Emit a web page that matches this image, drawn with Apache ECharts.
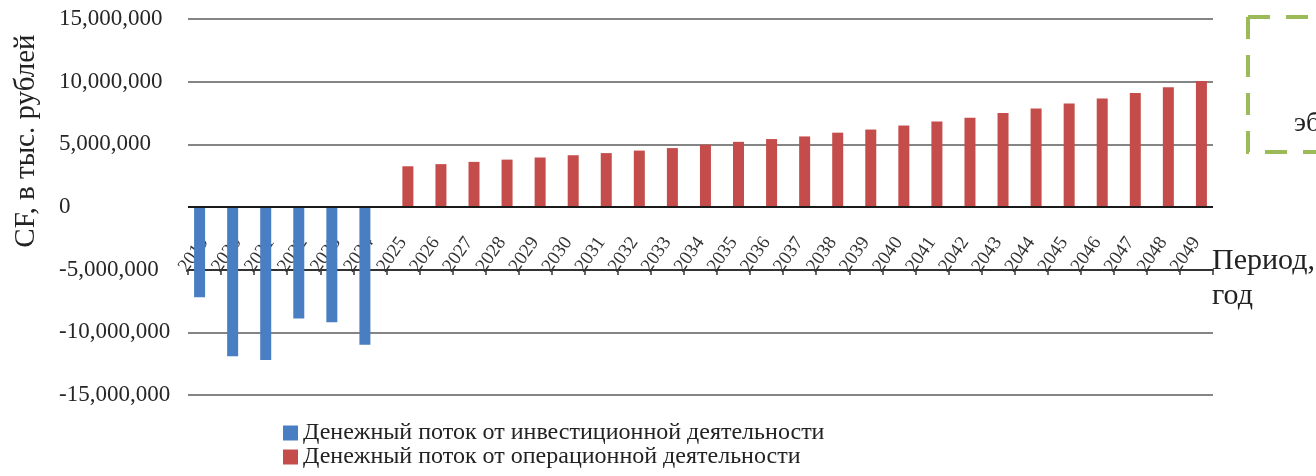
<!DOCTYPE html>
<html><head><meta charset="utf-8">
<script src="https://cdn.jsdelivr.net/npm/echarts@6/dist/echarts.min.js"></script>
<style>html,body{margin:0;padding:0;background:#fff}#c{width:1316px;height:476px}</style>
</head><body><div id="c"></div>
<script>
const years = ['2019','2020','2021','2022','2023','2024','2025','2026','2027','2028','2029','2030','2031','2032','2033','2034','2035','2036','2037','2038','2039','2040','2041','2042','2043','2044','2045','2046','2047','2048','2049'];
const investFlow = [-7200000,-11900000,-12200000,-8900000,-9200000,-11000000,null,null,null,null,null,null,null,null,null,null,null,null,null,null,null,null,null,null,null,null,null,null,null,null,null];
const operFlow = [null,null,null,null,null,null,3250000,3420000,3600000,3780000,3950000,4130000,4300000,4500000,4700000,4970000,5200000,5420000,5630000,5930000,6180000,6500000,6830000,7130000,7500000,7850000,8250000,8650000,9100000,9550000,10050000];
const seriesNames = ['Денежный поток от инвестиционной деятельности','Денежный поток от операционной деятельности'];
const yTitle = 'CF, в тыс. рублей';
const xTitle = 'Период,\nгод';
const boxText = 'эб';
const FONT = 'Liberation Serif';

const legendBase = {orient:'vertical', left:283, padding:0, itemWidth:15, itemHeight:15, icon:'rect',
  textStyle:{fontFamily:FONT,fontSize:24,lineHeight:22,color:'#222'}};

const chart = echarts.init(document.getElementById('c'), null, {renderer:'canvas'});
chart.setOption({
  animation:false,
  grid:{left:188,right:103,top:19,bottom:81,outerBoundsMode:'none'},
  xAxis:{
    type:'category', data:years, position:'bottom', offset:-125,
    axisLine:{onZero:false,lineStyle:{color:'#333',width:2}},
    axisTick:{show:true,interval:0,length:5,lineStyle:{color:'#333',width:1.5}},
    axisLabel:{interval:0,inside:true,rotate:55,align:'right',verticalAlign:'middle',margin:31,
      fontFamily:FONT,fontSize:19,color:'#333'},
    splitLine:{show:false}
  },
  yAxis:{
    type:'value', min:-15000000, max:15000000, interval:5000000,
    axisLine:{show:false}, axisTick:{show:false},
    axisLabel:{formatter:v=>v.toLocaleString('en-US'),align:'left',margin:129,
      fontFamily:FONT,fontSize:23,color:'#262626'},
    splitLine:{lineStyle:{color:'#858585',width:2}}
  },
  legend:[
    Object.assign({}, legendBase, {top:421, data:[seriesNames[0]]}),
    Object.assign({}, legendBase, {top:445, data:[seriesNames[1]]})
  ],
  series:[
    {type:'bar',name:seriesNames[0],data:investFlow,barWidth:11,barGap:'-10%',
     itemStyle:{color:'#4A7EC2'},
     markLine:{silent:true,symbol:['none','none'],label:{show:false},
       lineStyle:{color:'#1a1a1a',width:2,type:'solid'},data:[{yAxis:0}]}},
    {type:'bar',name:seriesNames[1],data:operFlow,barWidth:11,
     itemStyle:{color:'#C44D4B'}}
  ],
  graphic:[
    {type:'text',x:26,y:141,rotation:Math.PI/2,
     style:{text:yTitle,fontFamily:FONT,fontSize:29,fill:'#222',align:'center',verticalAlign:'middle'}},
    {type:'text',x:1212,y:244,
     style:{text:xTitle,fontFamily:FONT,fontSize:30,lineHeight:35,fill:'#222',align:'left',verticalAlign:'top'}},
    {type:'polyline',shape:{points:[[1248,17],[1340,17]]},
     style:{stroke:'#9BBB59',lineWidth:4,lineDash:[22,16],fill:null}},
    {type:'polyline',shape:{points:[[1248,17],[1248,152],[1340,152]]},
     style:{stroke:'#9BBB59',lineWidth:4,lineDash:[22,16],fill:null}},
    {type:'text',x:1294,y:124,
     style:{text:boxText,fontFamily:FONT,fontSize:28,fill:'#222',align:'left',verticalAlign:'middle'}}
  ]
});
</script></body></html>
